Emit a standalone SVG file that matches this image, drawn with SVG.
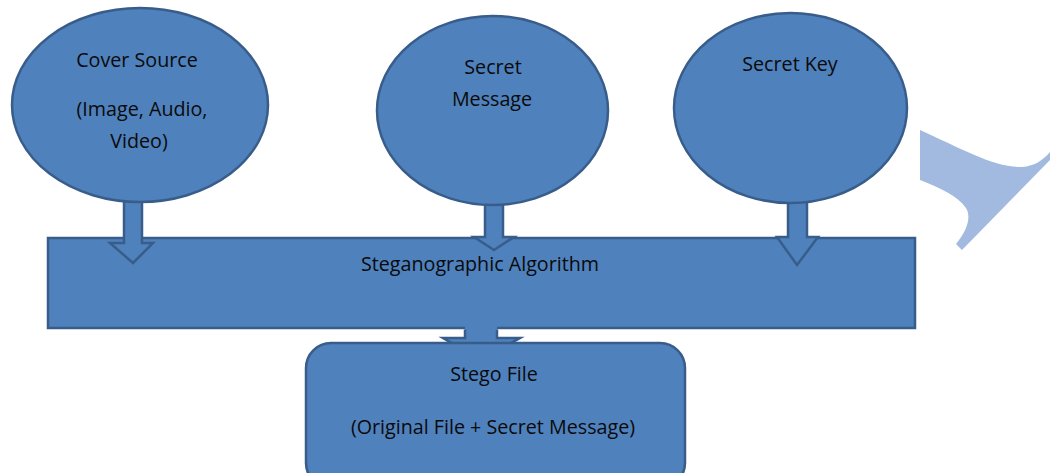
<svg xmlns="http://www.w3.org/2000/svg" width="1050" height="473" viewBox="0 0 1050 473">
  <style>
    .shape { fill: #4f81bd; stroke: #385d8a; stroke-width: 2.5; }
    .fillonly { fill: #4f81bd; stroke: none; }
    .edge { fill: none; stroke: #385d8a; stroke-width: 2.5; stroke-linejoin: miter; }
    .label { font-family: "Open Sans", "Noto Sans", sans-serif; font-size: 19.7px; fill: #0a0a0a; text-anchor: middle; }
  </style>
  <rect width="1050" height="473" fill="#ffffff"/>

  <!-- decorative swept shape on the right -->
  <path d="M920,130 C960,148 995,168 1022,167 C1035,166 1043,160 1050,152 L1050,160 L962,250 L956,244 C966,232 972,218 966,208 C958,196 940,188 920,180 Z" fill="#a2b9e0"/>

  <!-- processing stage -->
  <g id="algorithm">
    <rect class="shape" x="48" y="238" width="867" height="90"/>
    <text class="label" x="480" y="271">Steganographic Algorithm</text>
  </g>

  <g id="connectors">
    <!-- cover source to algorithm -->
    <path class="shape" d="M124,190 L124,243 L110,243 L133,263 L153,243 L142,243 L142,190 Z"/>
    <!-- secret message to algorithm -->
    <path class="shape" d="M485,195 L485,237 L474,237 L494,250 L514,237 L503,237 L503,195 Z"/>
    <!-- secret key to algorithm -->
    <path class="shape" d="M788,190 L788,237 L777,237 L797,265 L818,237 L807,237 L807,190 Z"/>
    <!-- algorithm to stego file -->
    <path class="fillonly" d="M465,320 L465,338 L443,338 L481,360 L520,338 L497,338 L497,320 Z"/>
    <path class="edge" d="M465,329.5 L465,338 L443,338 L481,360 L520,338 L497,338 L497,329.5"/>
  </g>

  <g id="cover-source">
    <ellipse class="shape" cx="140" cy="105" rx="128" ry="97"/>
    <text class="label" x="137" y="67">Cover Source</text>
    <text class="label" x="142" y="116">(Image, Audio,</text>
    <text class="label" x="139" y="148">Video)</text>
  </g>

  <g id="secret-message">
    <ellipse class="shape" cx="492.5" cy="110.5" rx="115.5" ry="94.5"/>
    <text class="label" x="493" y="74">Secret</text>
    <text class="label" x="492" y="106">Message</text>
  </g>

  <g id="secret-key">
    <ellipse class="shape" cx="790.5" cy="108" rx="116.5" ry="95"/>
    <text class="label" x="790" y="71">Secret Key</text>
  </g>

  <g id="stego-file">
    <rect class="shape" x="306" y="343" width="379" height="145" rx="25" ry="25"/>
    <text class="label" x="494" y="381">Stego File</text>
    <text class="label" x="493" y="434">(Original File + Secret Message)</text>
  </g>
</svg>
